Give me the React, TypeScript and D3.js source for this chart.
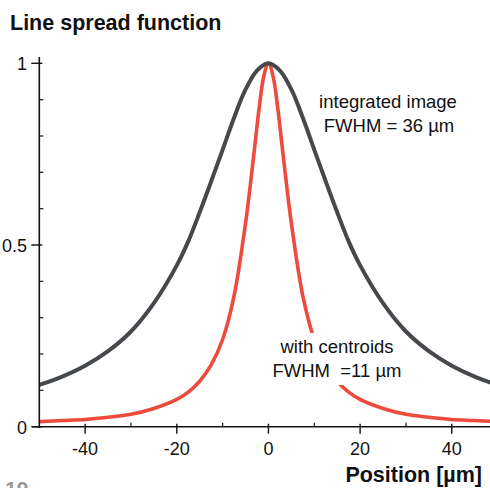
import React from "react";
import * as d3 from "d3";

const grayX = [-50, -45, -40, -35, -30, -25, -20, -17.5, -15, -12.5, -10, -7.5, -5, -2.5, 0, 2.5, 5, 7.5, 10, 12.5, 15, 17.5, 20, 25, 30, 35, 40, 45, 50];
const grayY = [0.115, 0.138, 0.168, 0.208, 0.262, 0.34, 0.444, 0.51, 0.59, 0.675, 0.762, 0.85, 0.928, 0.98, 1, 0.98, 0.928, 0.85, 0.762, 0.675, 0.59, 0.51, 0.444, 0.34, 0.262, 0.208, 0.168, 0.138, 0.115];

const redX = [-50, -45, -40, -35, -30, -25, -20, -17.5, -15, -12.5, -10, -7.5, -5, -4, -3, -2, -1, 0, 1, 2, 3, 4, 5, 7.5, 10, 12.5, 15, 17.5, 20, 25, 30, 35, 40, 45, 50];
const redY = [0.014, 0.017, 0.02, 0.026, 0.034, 0.05, 0.075, 0.095, 0.125, 0.17, 0.24, 0.36, 0.56, 0.66, 0.77, 0.88, 0.965, 1, 0.965, 0.88, 0.77, 0.66, 0.56, 0.36, 0.24, 0.17, 0.125, 0.095, 0.075, 0.05, 0.034, 0.026, 0.02, 0.017, 0.014];

const xMajorTicks = [-40, -20, 0, 20, 40];
const xMinorTicks = [-30, -10, 10, 30];
const yMajorTicks = [0, 0.5, 1];
const yMajorLabels = ["0", "0.5", "1"];
const yMinorTicks = [0.1, 0.2, 0.3, 0.4, 0.6, 0.7, 0.8, 0.9];

const title = "Line spread function";
const xTitle = "Position [µm]";
const labelIntegrated = ["integrated image", "FWHM = 36 µm"];
const labelCentroids = ["with centroids", "FWHM  =11 µm"];

const W = 490;
const H = 488;
const GRAY = "#45484c";
const RED = "#ee4a3e";
const FONT = "'Liberation Sans', Arial, Helvetica, sans-serif";

export default function App() {
  const x = d3.scaleLinear().domain([-50, 50]).range([39.3, 497.6]);
  const y = d3.scaleLinear().domain([0, 1]).range([426.7, 63.3]);

  const line = d3
    .line<[number, number]>()
    .x((d) => x(d[0]))
    .y((d) => y(d[1]))
    .curve(d3.curveCatmullRom.alpha(0.5));

  const grayPath = line(grayX.map((v, i) => [v, grayY[i]]) as [number, number][]) || "";
  const redPath = line(redX.map((v, i) => [v, redY[i]]) as [number, number][]) || "";

  const axisX = x(-50);
  const axisY = y(0);

  return (
    <svg
      width={W}
      height={H}
      style={{ position: "absolute", left: 0, top: 0, background: "#fff" }}
      fontFamily={FONT}
    >
      <rect x={0} y={0} width={W} height={H} fill="#fff" />
      <text x={10} y={30} fontSize={21.5} fontWeight="bold" fill="#111">
        {title}
      </text>

      {/* red curve */}
      <path d={redPath} fill="none" stroke={RED} strokeWidth={3.6} strokeLinejoin="round" />
      {/* label background breaking red curve */}
      <rect x={270} y={333} width={134} height={52} fill="#fff" />
      {/* gray curve */}
      <path d={grayPath} fill="none" stroke={GRAY} strokeWidth={4} strokeLinejoin="round" />

      {/* axes */}
      <line x1={axisX} x2={axisX} y1={57} y2={axisY + 1} stroke="#111" strokeWidth={1.6} />
      <line x1={32} x2={W} y1={axisY} y2={axisY} stroke="#111" strokeWidth={1.6} />

      {xMajorTicks.map((t) => (
        <g key={"xm" + t}>
          <line x1={x(t)} x2={x(t)} y1={axisY - 3} y2={axisY + 7} stroke="#111" strokeWidth={1.4} />
          <text x={x(t)} y={455} fontSize={18} textAnchor="middle" fill="#111">
            {String(t)}
          </text>
        </g>
      ))}
      {xMinorTicks.map((t) => (
        <line key={"xn" + t} x1={x(t)} x2={x(t)} y1={axisY - 4} y2={axisY} stroke="#111" strokeWidth={1.2} />
      ))}

      {yMajorTicks.map((t, i) => (
        <g key={"ym" + t}>
          <line x1={axisX - 8} x2={axisX + 3} y1={y(t)} y2={y(t)} stroke="#111" strokeWidth={1.4} />
          <text x={27} y={y(t) + 7} fontSize={18} textAnchor="end" fill="#111">
            {yMajorLabels[i]}
          </text>
        </g>
      ))}
      {yMinorTicks.map((t) => (
        <line key={"yn" + t} x1={axisX} x2={axisX + 4} y1={y(t)} y2={y(t)} stroke="#111" strokeWidth={1.2} />
      ))}

      {/* annotations */}
      <text x={388} y={108} fontSize={18.5} textAnchor="middle" fill="#111">
        {labelIntegrated[0]}
      </text>
      <text x={389} y={132} fontSize={18.5} textAnchor="middle" fill="#111">
        {labelIntegrated[1]}
      </text>
      <text x={337} y={353} fontSize={18.5} textAnchor="middle" fill="#111">
        {labelCentroids[0]}
      </text>
      <text x={337} y={377} fontSize={18.5} textAnchor="middle" fill="#111" style={{ whiteSpace: "pre" }}>
        {labelCentroids[1]}
      </text>

      <text x={482} y={482} fontSize={21.5} fontWeight="bold" textAnchor="end" fill="#111">
        {xTitle}
      </text>
      <text x={5} y={496} fontSize={21} fontWeight="bold" fill="#999">
        19
      </text>
    </svg>
  );
}
